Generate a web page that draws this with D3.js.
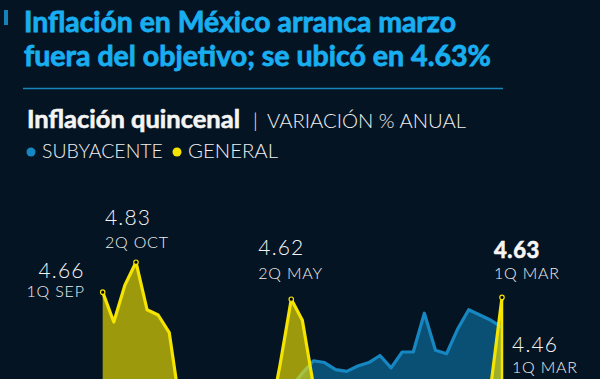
<!DOCTYPE html>
<html>
<head>
<meta charset="utf-8">
<script src="https://cdn.jsdelivr.net/npm/d3@7"></script>
<style>
  html, body { margin: 0; padding: 0; background: #051423; overflow: hidden; }
  svg { display: block; }
</style>
</head>
<body>
<div id="chart"></div>
<script>
// quincenas: 1Q SEP 2024 -> 1Q MAR 2026
const periods = ["1Q SEP","2Q SEP","1Q OCT","2Q OCT","1Q NOV","2Q NOV","1Q DIC","2Q DIC",
  "1Q ENE","2Q ENE","1Q FEB","2Q FEB","1Q MAR","2Q MAR","1Q ABR","2Q ABR","1Q MAY","2Q MAY",
  "1Q JUN","2Q JUN","1Q JUL","2Q JUL","1Q AGO","2Q AGO","1Q SEP","2Q SEP","1Q OCT","2Q OCT",
  "1Q NOV","2Q NOV","1Q DIC","2Q DIC","1Q ENE","2Q ENE","1Q FEB","2Q FEB","1Q MAR"];

// % anual, general (headline)
const general = [4.66, 4.49, 4.70, 4.83, 4.56, 4.53, 4.43, 4.00,
  3.69, 3.57, 3.74, 3.74, 3.67, 3.86, 3.96, 3.92, 4.25, 4.62,
  4.50, 4.13, 3.55, 3.52, 3.55, 3.60, 3.74, 3.78, 3.63, 3.56,
  3.61, 3.80, 3.72, 3.65, 3.77, 3.81, 4.02, 4.13, 4.63];

// % anual, subyacente (core)
const subyacente = [3.95, 3.92, 3.80, 3.78, 3.59, 3.62, 3.62, 3.72,
  3.63, 3.68, 3.59, 3.70, 3.59, 3.66, 3.96, 3.89, 4.01, 4.12,
  4.20, 4.27, 4.26, 4.22, 4.21, 4.24, 4.26, 4.30, 4.23, 4.32,
  4.32, 4.54, 4.33, 4.31, 4.45, 4.56, 4.53, 4.50, 4.46];

// labelled points
const noteIndex = [0, 3, 17, 36, 36];
const noteSeries = ["general", "general", "general", "general", "subyacente"];

function drawChart() {
    "use strict";
    const w = 600;
    const h = 379;
    const bg = "#051423";
    const yellow = "#f4e400";
    const blue = "#1787c2";
    const font = "Lato, 'Open Sans', sans-serif";

    const svg = d3.select("#chart").append("svg")
        .attr("width", w).attr("height", h);

    svg.append("rect").attr("width", w).attr("height", h).attr("fill", bg);

    // shrink / grow a text so it spans a given width
    function fitText(sel, width) {
        let size = parseFloat(sel.attr("font-size"));
        let len = sel.node().getComputedTextLength();
        sel.attr("font-size", (size * width / len).toFixed(2));
        return sel;
    }

    // header
    svg.append("rect").attr("x", 4).attr("y", 10).attr("width", 4).attr("height", 15)
        .attr("fill", "#1582b8");

    const title = ["Inflación en México arranca marzo", "fuera del objetivo; se ubicó en 4.63%"];
    const titleW = [432, 467];
    title.forEach(function (t, i) {
        let txt = svg.append("text")
            .attr("x", 24).attr("y", 32 + i * 34)
            .attr("font-family", font).attr("font-weight", 700)
            .attr("font-size", 28).attr("fill", "#18aef0")
            .attr("stroke", "#18aef0").attr("stroke-width", 0.8)
            .text(t);
        fitText(txt, titleW[i]);
    });

    svg.append("line").attr("x1", 23).attr("x2", 503).attr("y1", 88.5).attr("y2", 88.5)
        .attr("stroke", "#1a84ba").attr("stroke-width", 1.5);

    // subtitle
    fitText(svg.append("text").attr("x", 27).attr("y", 128)
        .attr("font-family", font).attr("font-weight", 700).attr("font-size", 18)
        .attr("fill", "#f4f4f4").attr("stroke", "#f4f4f4").attr("stroke-width", 0.6)
        .text("Inflación quincenal"), 213);
    svg.append("text").attr("x", 253).attr("y", 128)
        .attr("font-family", font).attr("font-weight", 300).attr("font-size", 20)
        .attr("fill", "#ececec").text("|");
    fitText(svg.append("text").attr("x", 267).attr("y", 128)
        .attr("font-family", font).attr("font-weight", 300).attr("font-size", 18)
        .attr("fill", "#f0f0f0").text("VARIACIÓN % ANUAL"), 199);

    // legend
    const legend = [{name: "SUBYACENTE", color: blue, x: 31, w: 121},
                    {name: "GENERAL", color: yellow, x: 177, w: 90}];
    legend.forEach(function (d) {
        svg.append("circle").attr("cx", d.x).attr("cy", 152).attr("r", 4.5).attr("fill", d.color);
        fitText(svg.append("text").attr("x", d.x + 11).attr("y", 157.5)
            .attr("font-family", font).attr("font-weight", 300).attr("font-size", 18)
            .attr("fill", "#f0f0f0").text(d.name), d.w);
    });

    // scales (the lower part of the chart falls outside the frame)
    const x = d3.scaleLinear().domain([0, periods.length - 1]).range([102.7, 502]);
    const y = d3.scaleLinear().domain([3.5, 5]).range([496.3, 232.3]);

    const area = d3.area()
        .x(function (d, i) { return x(i); })
        .y0(y(3.5))
        .y1(function (d) { return d; });
    const line = d3.line()
        .x(function (d, i) { return x(i); })
        .y(function (d) { return d; });

    const subY = subyacente.map(function (v) { return y(v); });
    const genY = general.map(function (v) { return y(v); });

    // core first
    svg.append("path").attr("d", area(subY)).attr("fill", "#0a4f74");
    svg.append("path").attr("d", line(subY)).attr("fill", "none")
        .attr("stroke", blue).attr("stroke-width", 3.2).attr("stroke-linejoin", "round");

    // headline on top, see-through fill
    svg.append("path").attr("d", area(genY)).attr("fill", yellow).attr("fill-opacity", 0.64);
    svg.append("path").attr("d", line(genY)).attr("fill", "none")
        .attr("stroke", yellow).attr("stroke-width", 3.2).attr("stroke-linejoin", "round");
    let last = general.length - 1;
    svg.append("line")
        .attr("x1", x(last)).attr("x2", x(last))
        .attr("y1", y(general[last])).attr("y2", y(3.5))
        .attr("stroke", yellow).attr("stroke-width", 2.5);

    // notes
    const noteLayout = [
        {dx: -18, dyV: -14, dyP: 5, anchor: "end", bold: false},
        {dx: -31, dyV: -37, dyP: -14, anchor: "start", bold: false},
        {dx: -33, dyV: -44, dyP: -20, anchor: "start", bold: false},
        {dx: -8, dyV: -39, dyP: -18, anchor: "start", bold: true},
        {dx: 10, dyV: 25, dyP: 46, anchor: "start", bold: false}
    ];

    noteIndex.forEach(function (idx, k) {
        let s = noteSeries[k] === "general" ? general : subyacente;
        let px = x(idx);
        let py = y(s[idx]);
        let lay = noteLayout[k];
        if (noteSeries[k] === "general") {
            svg.append("circle").attr("cx", px).attr("cy", py).attr("r", 2.2)
                .attr("fill", "#000").attr("stroke", yellow).attr("stroke-width", 1.2);
        }
        let val = svg.append("text").attr("x", px + lay.dx).attr("y", py + lay.dyV)
            .attr("text-anchor", lay.anchor)
            .attr("font-family", font).attr("font-weight", lay.bold ? 700 : 300)
            .attr("font-size", lay.bold ? 22 : 21).attr("letter-spacing", lay.bold ? 0.6 : 1.2)
            .attr("fill", "#f6f6f6")
            .text(s[idx].toFixed(2));
        if (lay.bold) val.attr("stroke", "#f6f6f6").attr("stroke-width", 0.7);
        svg.append("text").attr("x", px + lay.dx).attr("y", py + lay.dyP)
            .attr("text-anchor", lay.anchor)
            .attr("font-family", font).attr("font-weight", 300)
            .attr("font-size", 16).attr("letter-spacing", 0.8)
            .attr("fill", "#eeeeee")
            .text(periods[idx]);
    });
}

drawChart();
</script>
</body>
</html>
